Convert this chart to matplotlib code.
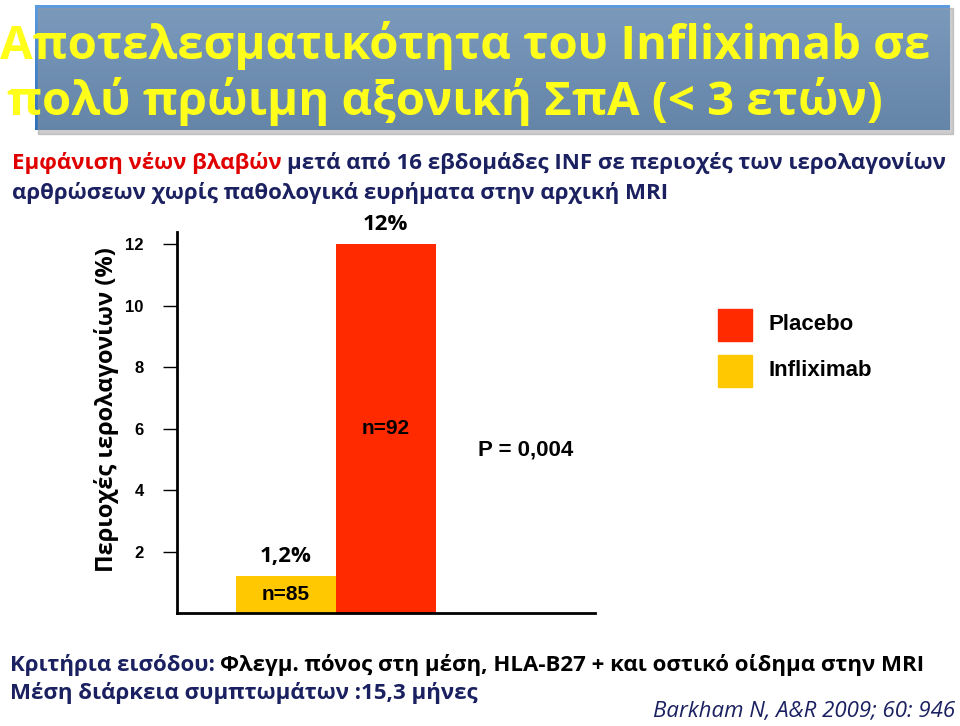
import matplotlib
matplotlib.use("Agg")
import matplotlib.pyplot as plt
from matplotlib.patches import Rectangle
from matplotlib.colors import LinearSegmentedColormap
from matplotlib import font_manager
import numpy as np

groups = ["Infliximab", "Placebo"]
values = [1.2, 12]
value_labels = ["1,2%", "12%"]
n_labels = ["n=85", "n=92"]
colors = ["#FFC800", "#FF2A00"]
yticks = [2, 4, 6, 8, 10, 12]

names = {f.name for f in font_manager.fontManager.ttflist}
narrow = "Liberation Sans Narrow" if "Liberation Sans Narrow" in names else "Open Sans"
cond = "Open Sans"

W, H = 960, 726
fig = plt.figure(figsize=(9.6, 7.26), dpi=100)

def fx(px): return px / W
def fy(py): return 1 - py / H

# shadow + title box gradient
fig.patches.append(Rectangle((fx(38), fy(134)), fx(915) , fy(8) - fy(134),
                             transform=fig.transFigure, color="#9a9a9a", alpha=0.5))
tax = fig.add_axes([fx(35), fy(130), fx(950) - fx(35), fy(5) - fy(130)])
grad = np.linspace(0, 1, 100).reshape(-1, 1)
cm = LinearSegmentedColormap.from_list("b", ["#5C9BE0", "#2F6FB8"])
tax.imshow(grad, aspect="auto", cmap=cm, extent=[0, 1, 0, 1])
tax.set_axis_off()
fig.text(fx(465), fy(45), "Αποτελεσματικότητα του Infliximab σε", color="#FFFF1A",
         fontsize=34, fontweight="bold", ha="center", va="center", family=narrow)
fig.text(fx(445), fy(102), "πολύ πρώιμη αξονική ΣπΑ (< 3 ετών)", color="#FFFF1A",
         fontsize=34, fontweight="bold", ha="center", va="center", family=narrow)

# subtitle
t1 = fig.text(fx(12), fy(163), "Εμφάνιση νέων βλαβών", color="#E00000", fontsize=16,
              ha="left", va="center", family=narrow, fontweight="bold")
fig.canvas.draw()
bb = t1.get_window_extent()
fig.text(bb.x1 / W + 0.006, fy(163), "μετά από 16 εβδομάδες INF σε περιοχές των ιερολαγονίων",
         color="#1A2060", fontsize=16, ha="left", va="center", family=narrow, fontweight="bold")
fig.text(fx(12), fy(193), "αρθρώσεων χωρίς παθολογικά ευρήματα στην αρχική MRI",
         color="#1A2060", fontsize=16, ha="left", va="center", family=narrow, fontweight="bold")

# chart axes
xmin = -1.085
ax = fig.add_axes([fx(177), fy(613), fx(595) - fx(177), fy(232) - fy(613)])
x = np.arange(len(groups))
ax.bar(x, values, width=1.0, color=colors, edgecolor="none")
ax.set_xlim(xmin, xmin + 4.18)
ax.set_ylim(0, 12.4)
ax.set_yticks(yticks)
ax.set_yticklabels([str(t) for t in yticks], fontsize=12, fontweight="bold", family="Liberation Sans")
ax.tick_params(axis="y", length=10, width=1, pad=14)
ax.set_xticks([])
for s in ["top", "right"]:
    ax.spines[s].set_visible(False)
ax.spines["left"].set_linewidth(2)
ax.spines["bottom"].set_linewidth(2)
for i, v in enumerate(values):
    ax.text(x[i], v + 0.3, value_labels[i], ha="center", va="bottom", fontsize=16,
            family=narrow, fontweight="bold")
ax.text(x[0], 0.6, n_labels[0], ha="center", va="center", fontsize=15, fontweight="bold", family="Liberation Sans")
ax.text(x[1], 6.0, n_labels[1], ha="center", va="center", fontsize=15, fontweight="bold", family="Liberation Sans")
ax.text(2.4, 5.3, "P = 0,004", ha="center", va="center", fontsize=16, fontweight="bold", family="Liberation Sans")
fig.text(fx(107), fy(410), "Περιοχές ιερολαγονίων (%)", rotation=90, ha="center", va="center",
         fontsize=17, fontweight="bold", family=narrow)

# legend
for py, c, lab in [(325, colors[1], groups[1]), (371, colors[0], groups[0])]:
    fig.patches.append(Rectangle((fx(718), fy(py + 16)), fx(34), fy(py - 16) - fy(py + 16),
                                 transform=fig.transFigure, color=c))
    fig.text(fx(768), fy(py), lab, fontsize=16, fontweight="bold", ha="left", va="center",
             family="Liberation Sans")

# footer
f1 = fig.text(fx(10), fy(665), "Κριτήρια εισόδου:", color="#1A2060", fontsize=16, ha="left",
              va="center", family=narrow, fontweight="bold")
fig.canvas.draw()
bb = f1.get_window_extent()
fig.text(bb.x1 / W + 0.005, fy(665), "Φλεγμ. πόνος στη μέση, HLA-B27 + και οστικό οίδημα στην MRI",
         color="#000000", fontsize=16, ha="left", va="center", family=narrow, fontweight="bold")
fig.text(fx(10), fy(693), "Μέση διάρκεια συμπτωμάτων :15,3 μήνες", color="#1A2060", fontsize=16,
         ha="left", va="center", family=narrow, fontweight="bold")
fig.text(fx(955), fy(712), "Barkham N, A&R 2009; 60: 946", color="#1A2060", fontsize=16,
         ha="right", va="center", style="italic", family=narrow)

fig.savefig("out.png", dpi=100)
